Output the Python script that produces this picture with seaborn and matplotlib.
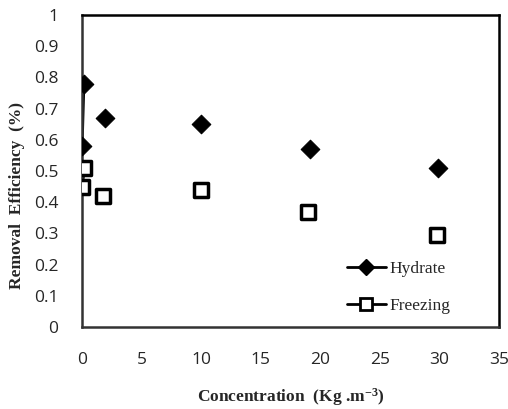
import matplotlib
matplotlib.use("Agg")
import matplotlib.pyplot as plt
import seaborn as sns
import pandas as pd
from matplotlib.lines import Line2D

hydrate_x = [0.0, 0.15, 1.9, 10.0, 19.1, 29.9]
hydrate_y = [0.58, 0.78, 0.67, 0.65, 0.57, 0.51]
freezing_x = [0.0, 0.2, 1.8, 10.0, 19.0, 29.8]
freezing_y = [0.45, 0.51, 0.42, 0.44, 0.37, 0.295]
x_ticks = [0, 5, 10, 15, 20, 25, 30, 35]
y_ticks = [0, 0.1, 0.2, 0.3, 0.4, 0.5, 0.6, 0.7, 0.8, 0.9, 1.0]

sns.set_style("white")
plt.rcParams["mathtext.fontset"] = "custom"
plt.rcParams["mathtext.rm"] = "Liberation Serif:bold"
plt.rcParams["mathtext.it"] = "Liberation Serif:bold"
plt.rcParams["mathtext.bf"] = "Liberation Serif:bold"

fig = plt.figure(figsize=(5.08, 4.09), dpi=100)
ax = fig.add_axes([82/508, 1-327/409, (499-82)/508, (327-15)/409])

dh = pd.DataFrame({"x": hydrate_x, "y": hydrate_y})
df = pd.DataFrame({"x": freezing_x, "y": freezing_y})

sns.lineplot(data=dh.iloc[:2], x="x", y="y", ax=ax, color="black", lw=2.2, sort=False, legend=False)
sns.lineplot(data=df.iloc[:2], x="x", y="y", ax=ax, color="black", lw=2.2, sort=False, legend=False)
sns.scatterplot(data=dh, x="x", y="y", ax=ax, marker="D", s=90, color="black", edgecolor="black", zorder=5)
sns.scatterplot(data=df, x="x", y="y", ax=ax, marker="s", s=110, facecolor="white", edgecolor="black", linewidth=2.5, zorder=5)

ax.set_xlim(0, 35)
ax.set_ylim(0, 1)
ax.set_xticks(x_ticks)
ax.set_yticks(y_ticks)
ax.set_xticklabels([str(t) for t in x_ticks], fontsize=12.5, family="Open Sans")
ax.set_yticklabels(["0"] + [f"{t:.1f}" for t in y_ticks[1:-1]] + ["1"], fontsize=12.5, family="Open Sans")
ax.tick_params(axis="x", direction="in", length=5, width=1, color="#555555", pad=18)
ax.tick_params(axis="y", direction="in", length=5, width=1, color="#555555", pad=17)
for s in ax.spines.values():
    s.set_color("black")
    s.set_linewidth(1.8)
ax.spines["left"].set_color("#333333")
ax.spines["bottom"].set_color("#333333")

ax.set_xlabel("Concentration  (Kg .m$^{-3}$)", fontsize=12.5, fontweight="bold", family="Liberation Serif")
ax.set_ylabel("Removal  Efficiency  (%)", fontsize=12.5, fontweight="bold", family="Liberation Serif")
ax.xaxis.set_label_coords(0.5, -0.19)
ax.yaxis.set_label_coords(-0.137, 0.42)

handles = [
    Line2D([], [], color="black", lw=2, marker="D", markersize=8, markerfacecolor="black"),
    Line2D([], [], color="black", lw=2, marker="s", markersize=9, markerfacecolor="white", markeredgewidth=2),
]
ax.legend(handles, ["Hydrate", "Freezing"], loc="lower right", bbox_to_anchor=(0.92, -0.008),
          frameon=False, prop={"family": "Liberation Serif", "size": 12.5},
          handlelength=2.2, handletextpad=0.2, labelspacing=1.2)

fig.savefig("out.png", dpi=100)
